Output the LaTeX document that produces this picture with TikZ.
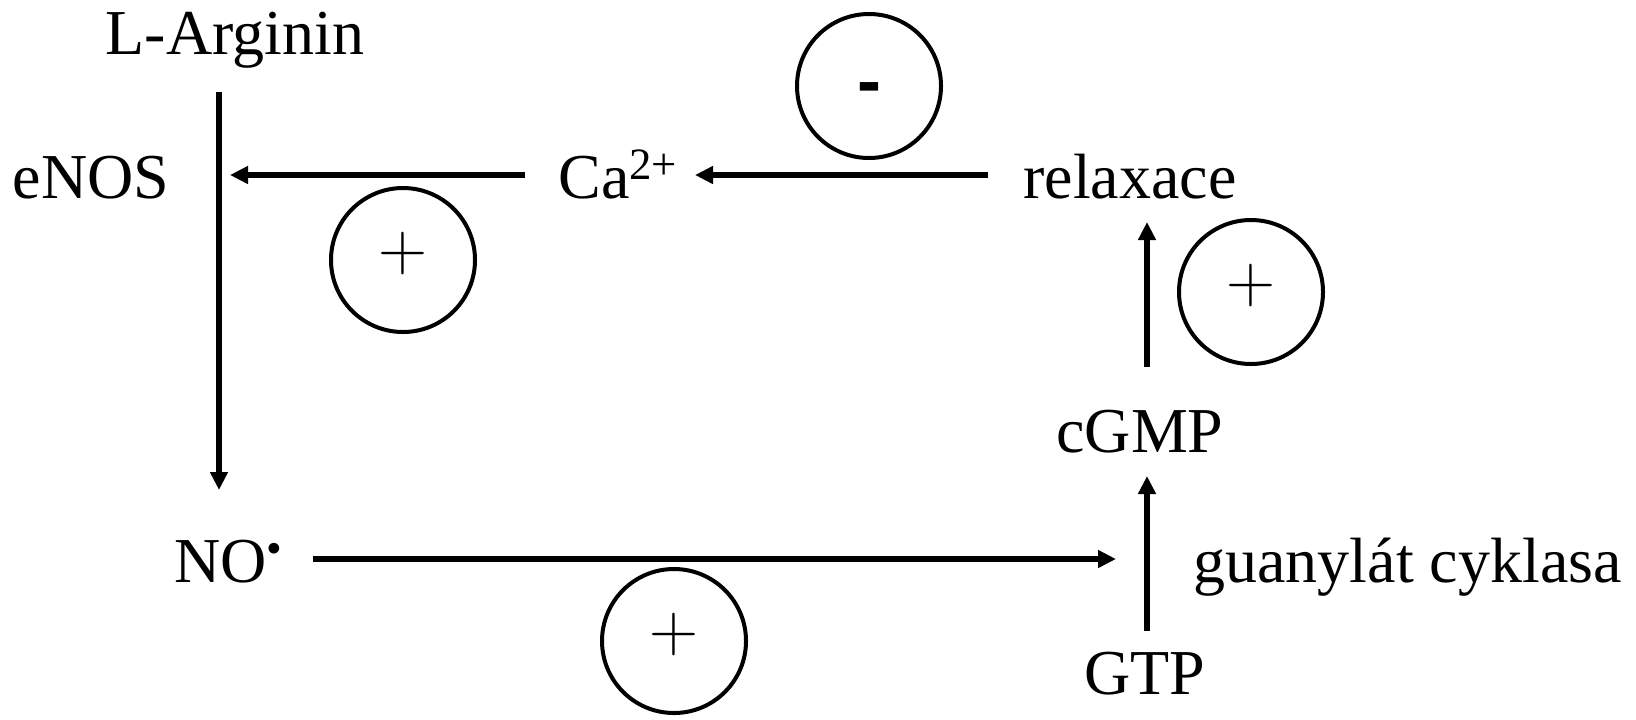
\documentclass[tikz,border=0pt]{standalone}
\usepackage{fontspec}
\setmainfont{Liberation Serif}
\newfontfamily\sansbold{Liberation Sans}
\newfontfamily\lmplus{Latin Modern Roman}
\usetikzlibrary{arrows.meta}
\begin{document}
\begin{tikzpicture}[x=0.5pt,y=-0.5pt,
  lbl/.style={inner sep=0pt,font=\fontsize{32}{38}\selectfont},
  arr/.style={line width=2.6pt,-{Triangle[length=9pt,width=8.5pt]}},
  sign/.style={circle,draw,line width=2pt,minimum size=72pt,inner sep=0pt},
  plussign/.style={sign,font=\fontsize{34}{40}\lmplus},
  minussign/.style={sign,font=\fontsize{36}{40}\sansbold\bfseries}]
\useasboundingbox (0,0) rectangle (1636,719);
% labels
\node[lbl,anchor=base] (larg) at (235,54) {L-Arginin};
\node[lbl,anchor=base] (enos) at (91,198) {eNOS};
\node[lbl,anchor=base west] (ca) at (558,198) {Ca\textsuperscript{2+}};
\node[lbl,anchor=base] (relax) at (1130,198) {relaxace};
\node[lbl,anchor=base] (cgmp) at (1140,452) {cGMP};
\node[lbl,anchor=base west] (no) at (174,582) {NO\textsuperscript{\textbullet}};
\node[lbl,anchor=base west] (gc) at (1193,582) {guanylát cyklasa};
\node[lbl,anchor=base] (gtp) at (1145,694) {GTP};
% sign circles
\node[minussign] (minus) at (869,86) {\raisebox{-9.7pt}[0pt][0pt]{-}};
\node[plussign] (plusA) at (403,260) {\raisebox{-5.2pt}[0pt][0pt]{+}};
\node[plussign] (plusB) at (1251,292) {\raisebox{-5.2pt}[0pt][0pt]{+}};
\node[plussign] (plusC) at (674,641) {\raisebox{-5.2pt}[0pt][0pt]{+}};
% arrow end points
\coordinate (vTop) at (219,92);
\coordinate (vBot) at (219,490);
\coordinate (caS) at (525,175);
\coordinate (caE) at (230,175);
\coordinate (rS) at (988,175);
\coordinate (rE) at (695,175);
\coordinate (cS) at (1147,367);
\coordinate (cE) at (1147,222);
\coordinate (gS) at (1147,631);
\coordinate (gE) at (1147,476);
\coordinate (nS) at (313,559);
\coordinate (nE) at (1116,559);
% arrows
\draw[arr] (vTop) -- (vBot);
\draw[arr] (caS) -- (caE);
\draw[arr] (rS) -- (rE);
\draw[arr] (cS) -- (cE);
\draw[arr] (gS) -- (gE);
\draw[arr] (nS) -- (nE);
\end{tikzpicture}
\end{document}
